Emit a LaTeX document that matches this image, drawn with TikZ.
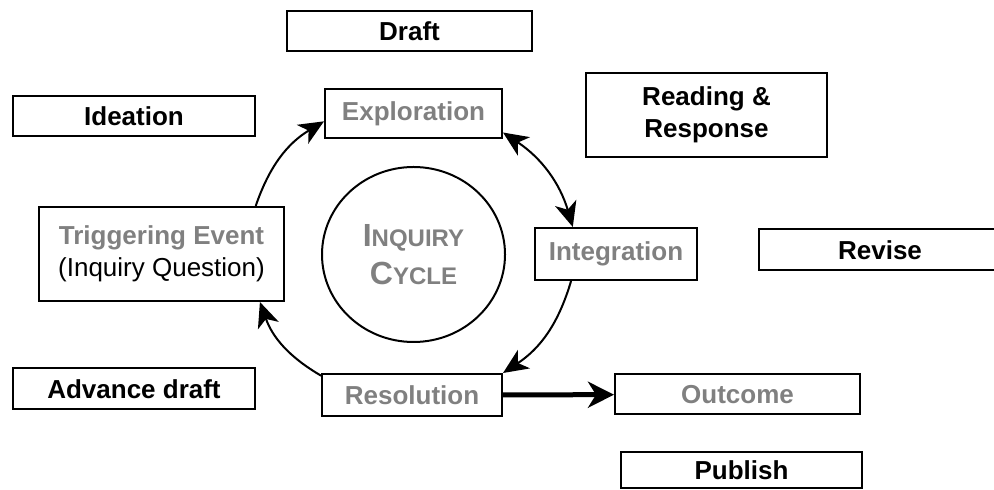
\documentclass[tikz,border=0pt]{standalone}
\usepackage{fontspec}
\setmainfont{Liberation Sans}
\usepackage{xcolor}
\usetikzlibrary{arrows.meta,shapes.geometric}
\definecolor{phasegray}{gray}{0.5}

\begin{document}
\begin{tikzpicture}[x=0.5pt,y=-0.5pt,font=\bfseries\fontsize{13pt}{16pt}\selectfont,
  stage/.style={draw,line width=1pt,align=center,inner sep=0pt,minimum width=121pt,minimum height=20pt},
  phase/.style={stage,text=phasegray},
  cyclearrow/.style={->,line width=1pt,bend left=20},
  >={Stealth[length=12.5pt,width=11pt,inset=3.5pt]}]
\useasboundingbox (0,0) rectangle (994,490);
\node[stage,minimum width=122.5pt] (draft) at (409.5,31.5) {Draft};
\node[stage] (ideation) at (134,116.5) {Ideation};
\node[phase,minimum width=88.5pt,minimum height=24.5pt] (explor) at (413.5,113.5) {Exploration};
\node[stage,minimum width=120.5pt,minimum height=42pt] (reading) at (706.5,115) {Reading \&\\Response};
\node[phase,minimum width=122.5pt,minimum height=47pt] (trig) at (161.5,254) {Triggering Event\\{\mdseries\color{black}(Inquiry Question)}};
\node[draw,ellipse,line width=1pt,minimum width=91.5pt,minimum height=87.5pt,inner sep=0pt,align=center,text=phasegray,
  font=\bfseries\fontsize{16pt}{19pt}\selectfont] (inquiry) at (413.5,254.5)
  {I{\fontsize{12pt}{19pt}\selectfont NQUIRY}\\C{\fontsize{12pt}{19pt}\selectfont YCLE}};
\node[phase,minimum width=81pt,minimum height=26pt] (integ) at (616,254) {Integration};
\node[stage,minimum height=20.5pt] (revise) at (880,250) {Revise};
\node[stage,minimum height=20.5pt] (advance) at (134,389) {Advance draft};
\node[phase,minimum width=90pt,minimum height=21pt] (resol) at (412,395) {Resolution};
\node[phase,minimum width=122.5pt] (outcome) at (737.5,394.5) {Outcome};
\node[stage,minimum width=120.5pt,minimum height=18pt] (publish) at (741.5,470) {Publish};
\draw[cyclearrow] (trig.27) to (explor.185);
\draw[cyclearrow,<->] (explor.-12) to (integ.148);
\draw[cyclearrow] (integ.211) to (resol.north east);
\draw[cyclearrow] (resol.168) to (trig.-26);
\draw[->,line width=2.5pt,>={Stealth[length=13pt,width=13pt,inset=4pt]}] (resol)--(outcome);
\end{tikzpicture}
\end{document}
